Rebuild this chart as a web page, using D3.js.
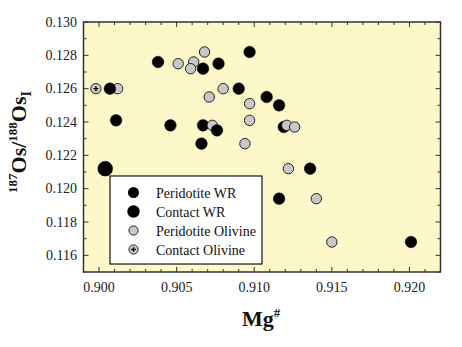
<!DOCTYPE html>
<html><head><meta charset="utf-8">
<script src="https://cdn.jsdelivr.net/npm/d3@7"></script>
<style>body{margin:0;background:#fff}svg{display:block}</style>
</head><body>
<svg id="c" width="462" height="347" font-family="'Liberation Serif', 'Times New Roman', Times, serif"></svg>
<script>
const seriesNames = ["Peridotite WR","Contact WR","Peridotite Olivine","Contact Olivine"];
const peridotiteWR = [
  [0.9007,0.1260],[0.9011,0.1241],[0.9038,0.1276],[0.9046,0.1238],[0.9066,0.1227],
  [0.9067,0.1272],[0.9067,0.1238],[0.9077,0.1275],[0.9090,0.1260],[0.9097,0.1282],
  [0.9108,0.1255],[0.9116,0.1250],[0.9119,0.1237],[0.9136,0.1212],[0.9116,0.1194],
  [0.9201,0.1168]
];
const contactWR = [[0.9004,0.1212]];
const peridotiteOl = [
  [0.9012,0.1260],[0.9051,0.1275],[0.9061,0.1276],[0.9059,0.1272],[0.9068,0.1282],
  [0.9071,0.1255],[0.9080,0.1260],[0.9073,0.1238],[0.9097,0.1251],[0.9097,0.1241],
  [0.9094,0.1227],[0.9121,0.1238],[0.9126,0.1237],[0.9122,0.1212],[0.9140,0.1194],
  [0.9150,0.1168]
];
const contactOl = [[0.8998,0.1260]];
const lateWR = [[0.9076,0.1235]];
const xTicks = [0.900,0.905,0.910,0.915,0.920];
const yTicks = [0.116,0.118,0.120,0.122,0.124,0.126,0.128,0.130];

const svg = d3.select("#c");
const L=83.5, R=440.5, T=22, B=272;
const x = d3.scaleLinear().domain([0.899,0.922]).range([L,R]);
const y = d3.scaleLinear().domain([0.115,0.130]).range([B,T]);

svg.append("rect").attr("x",L).attr("y",T).attr("width",R-L).attr("height",B-T).attr("fill","#FCF8C9");

const minorX = d3.range(0.899,0.92201,0.001);
const minorY = d3.range(0.115,0.13001,0.001);
const g = svg.append("g").attr("stroke","#333").attr("stroke-width",1);
minorX.forEach(v=>{
  const major = xTicks.some(t=>Math.abs(t-v)<1e-6);
  const len = major?5:3;
  g.append("line").attr("x1",x(v)).attr("x2",x(v)).attr("y1",B).attr("y2",B-len);
  g.append("line").attr("x1",x(v)).attr("x2",x(v)).attr("y1",T).attr("y2",T+len);
});
minorY.forEach(v=>{
  const major = yTicks.some(t=>Math.abs(t-v)<1e-6);
  const len = major?5:3;
  g.append("line").attr("y1",y(v)).attr("y2",y(v)).attr("x1",L).attr("x2",L+len);
  g.append("line").attr("y1",y(v)).attr("y2",y(v)).attr("x1",R).attr("x2",R-len);
});

svg.selectAll(".xt").data(xTicks).enter().append("text")
  .attr("x",d=>x(d)).attr("y",292).attr("text-anchor","middle").attr("font-size",14).attr("fill","#222")
  .text(d=>d3.format(".3f")(d));
svg.selectAll(".yt").data(yTicks).enter().append("text")
  .attr("x",77).attr("y",d=>y(d)+4.5).attr("text-anchor","end").attr("font-size",14).attr("fill","#222")
  .text(d=>d3.format(".3f")(d));

function drawBlack(data,r){
  svg.append("g").selectAll("circle").data(data).enter().append("circle")
    .attr("cx",d=>x(d[0])).attr("cy",d=>y(d[1])).attr("r",r).attr("fill","#000").attr("stroke","#000").attr("stroke-width",0.5);
}
function drawGray(data,r,plus){
  const gg = svg.append("g");
  gg.selectAll("circle").data(data).enter().append("circle")
    .attr("cx",d=>x(d[0])).attr("cy",d=>y(d[1])).attr("r",r).attr("fill","#C8C8C8").attr("stroke","#222").attr("stroke-width",1);
  if(plus){
    data.forEach(d=>{
      gg.append("path").attr("d",`M${x(d[0])-2.5},${y(d[1])}h5M${x(d[0])},${y(d[1])-2.5}v5`).attr("stroke","#000").attr("stroke-width",1.4);
    });
  }
}
drawGray(peridotiteOl.slice(0,4),5.2,false);
drawBlack(peridotiteWR,5.8);
drawGray(peridotiteOl.slice(4),5.2,false);
drawBlack(lateWR,5.8);
drawBlack(contactWR,7.4);
drawGray(contactOl,5.2,true);

svg.append("rect").attr("x",L).attr("y",T).attr("width",R-L).attr("height",B-T).attr("fill","none").attr("stroke","#333").attr("stroke-width",1.5);

// legend
const lg = svg.append("g");
lg.append("rect").attr("x",110).attr("y",176).attr("width",152).attr("height",88).attr("fill","#fff").attr("stroke","#111").attr("stroke-width",1.2);
const ly = [192.5,211.5,230.5,249.5];
seriesNames.forEach((n,i)=>{
  const cx=133.5, cy=ly[i];
  if(i===0) lg.append("circle").attr("cx",cx).attr("cy",cy).attr("r",5.5).attr("fill","#000");
  if(i===1) lg.append("circle").attr("cx",cx).attr("cy",cy).attr("r",6.2).attr("fill","#000");
  if(i>=2) lg.append("circle").attr("cx",cx).attr("cy",cy).attr("r",4.6).attr("fill","#C8C8C8").attr("stroke","#222").attr("stroke-width",1);
  if(i===3) lg.append("path").attr("d",`M${cx-2.3},${cy}h4.6M${cx},${cy-2.3}v4.6`).attr("stroke","#000").attr("stroke-width",1.4);
  lg.append("text").attr("x",156).attr("y",cy+5).attr("font-size",14).attr("fill","#111").text(n);
});

// axis labels
const xl = svg.append("text").attr("x",242).attr("y",326).attr("font-size",22).attr("font-weight","bold").attr("fill","#111");
xl.append("tspan").text("Mg");
xl.append("tspan").attr("font-size",13).attr("dy",-9).text("#");

const yl = svg.append("text").attr("transform","translate(26,142) rotate(-90)").attr("text-anchor","middle")
  .attr("font-size",22).attr("font-weight","bold").attr("fill","#111");
yl.append("tspan").attr("font-size",13).attr("dy",-9).text("187");
yl.append("tspan").attr("dy",9).text("Os/");
yl.append("tspan").attr("font-size",13).attr("dy",-9).text("188");
yl.append("tspan").attr("dy",9).text("Os");
yl.append("tspan").attr("font-size",14).attr("dy",5).text("I");
</script>
</body></html>
